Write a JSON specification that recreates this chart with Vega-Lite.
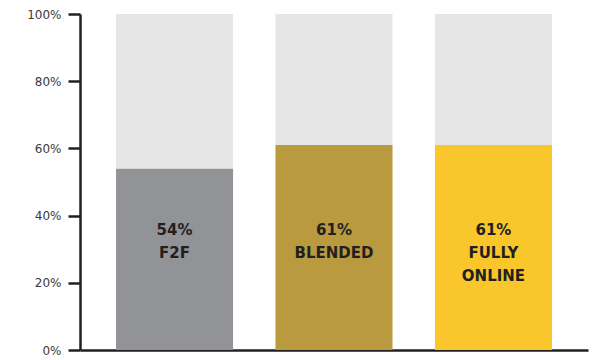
{
  "$schema": "https://vega.github.io/schema/vega-lite/v6.json",
  "width": 508,
  "height": 336,
  "autosize": "none",
  "padding": {"left": 80, "top": 14, "right": 4, "bottom": 10},
  "background": "white",
  "config": {"view": {"stroke": null}},
  "data": {
    "values": [
      {"mode": "F2F", "part": "share", "segment": "F2F", "value": 54, "label": "54%\nF2F"},
      {"mode": "F2F", "part": "rest", "segment": "rest", "value": 46, "label": ""},
      {"mode": "Blended", "part": "share", "segment": "Blended", "value": 61, "label": "61%\nBLENDED"},
      {"mode": "Blended", "part": "rest", "segment": "rest", "value": 39, "label": ""},
      {"mode": "Fully online", "part": "share", "segment": "Fully online", "value": 61, "label": "61%\nFULLY\nONLINE"},
      {"mode": "Fully online", "part": "rest", "segment": "rest", "value": 39, "label": ""}
    ]
  },
  "encoding": {
    "x": {
      "field": "mode",
      "type": "nominal",
      "sort": null,
      "scale": {"paddingInner": 0.266, "paddingOuter": 0.226},
      "axis": {
        "title": null,
        "labels": false,
        "ticks": false,
        "domainColor": "#231f20",
        "domainWidth": 2.5
      }
    }
  },
  "layer": [
    {
      "mark": {"type": "bar"},
      "encoding": {
        "y": {
          "field": "value",
          "type": "quantitative",
          "stack": "zero",
          "scale": {"domain": [0, 100]},
          "axis": {
            "title": null,
            "values": [0, 20, 40, 60, 80, 100],
            "labelExpr": "datum.value + '%'",
            "grid": false,
            "domainColor": "#231f20",
            "domainWidth": 2.5,
            "tickColor": "#231f20",
            "tickWidth": 2.5,
            "tickSize": 12,
            "labelPadding": 7,
            "labelFont": "DejaVu Sans",
            "labelFontSize": 12,
            "labelColor": "#3a3a3a"
          }
        },
        "color": {
          "field": "segment",
          "type": "nominal",
          "scale": {
            "domain": ["F2F", "Blended", "Fully online", "rest"],
            "range": ["#929396", "#b99a3f", "#f9c62b", "#e6e6e6"]
          },
          "legend": null
        },
        "order": {"field": "part", "sort": "descending"}
      }
    },
    {
      "transform": [{"filter": "datum.part === 'share'"}],
      "mark": {
        "type": "text",
        "baseline": "top",
        "align": "center",
        "font": "DejaVu Sans",
        "fontWeight": "bold",
        "fontSize": 15,
        "lineHeight": 23,
        "color": "#231f20",
        "lineBreak": "\n"
      },
      "encoding": {
        "y": {"datum": 37.8, "type": "quantitative"},
        "text": {"field": "label"}
      }
    }
  ]
}
